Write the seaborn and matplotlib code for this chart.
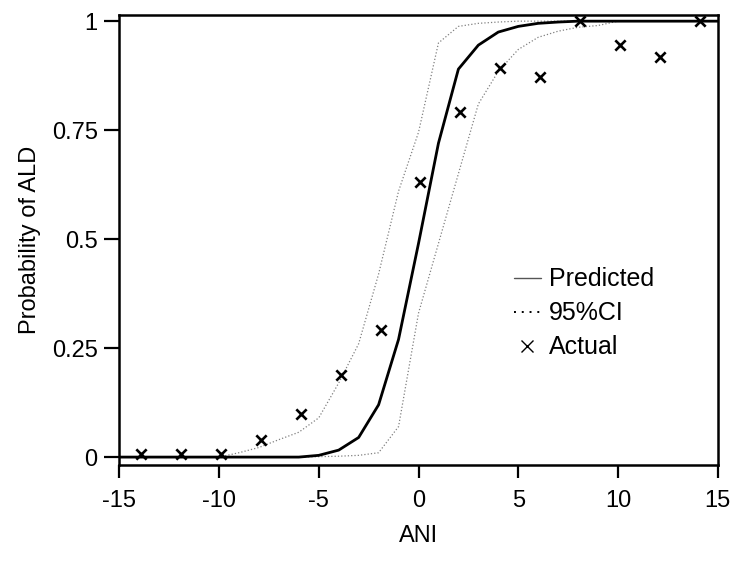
import numpy as np
import pandas as pd
import matplotlib
matplotlib.use("Agg")
import matplotlib.pyplot as plt
from matplotlib.lines import Line2D
import seaborn as sns

# ANI grid for the fitted curves
ani_grid = [-15, -14, -13, -12, -11, -10, -9, -8, -7, -6, -5, -4, -3, -2, -1, 0,
            1, 2, 3, 4, 5, 6, 7, 8, 9, 10, 11, 12, 13, 14, 15]

# predicted probability of ALD
predicted = [0, 0, 0, 0, 0, 0, 0, 0, 0, 0, 0.004, 0.016, 0.045, 0.12, 0.27, 0.49,
             0.72, 0.89, 0.945, 0.975, 0.988, 0.995, 0.998, 1, 1, 1, 1, 1, 1, 1, 1]

# 95% CI bounds
ci_upper = [0, 0, 0, 0, 0, 0, 0.01, 0.022, 0.04, 0.057, 0.09, 0.17, 0.26, 0.42, 0.61, 0.745,
            0.95, 0.988, 0.995, 0.998, 1, 1, 1, 1, 1, 1, 1, 1, 1, 1, 1]
ci_lower = [0, 0, 0, 0, 0, 0, 0, 0, 0, 0, 0.001, 0.002, 0.004, 0.01, 0.07, 0.33,
            0.49, 0.65, 0.81, 0.885, 0.935, 0.963, 0.977, 0.986, 0.99, 1, 1, 1, 1, 1, 1]

# observed proportions
actual_x = [-13.9, -11.9, -9.9, -7.9, -5.9, -3.9, -1.9, 0.1, 2.1, 4.1, 6.1, 8.1, 10.1, 12.1, 14.1]
actual_y = [0.008, 0.008, 0.008, 0.039, 0.099, 0.188, 0.291, 0.631, 0.791, 0.892,
            0.871, 1.0, 0.945, 0.917, 1.0]

curves = pd.DataFrame({"ANI": ani_grid, "pred": predicted, "lo": ci_lower, "hi": ci_upper})
obs = pd.DataFrame({"ANI": actual_x, "prob": actual_y})

sns.set_style("ticks")
plt.rcParams['font.family'] = ['Liberation Sans', 'DejaVu Sans']
plt.rcParams['axes.unicode_minus'] = False
plt.rcParams['text.color'] = 'black'
plt.rcParams['axes.labelcolor'] = 'black'

fig = plt.figure(figsize=(7.5, 5.61), dpi=100)
ax = fig.add_axes([0.159, 0.171, 0.798, 0.802])

sns.lineplot(data=curves, x="ANI", y="hi", ax=ax, color="#808080", lw=0.9, ls=":")
sns.lineplot(data=curves, x="ANI", y="lo", ax=ax, color="#808080", lw=0.9, ls=":")
sns.lineplot(data=curves, x="ANI", y="pred", ax=ax, color="black", lw=2.0)
sns.scatterplot(data=obs, x="ANI", y="prob", ax=ax, marker="x", color="black",
                s=55, linewidth=1.9, zorder=5)

ax.set_xlim(-15, 15)
ax.set_ylim(-0.0183, 1.0138)
ax.set_xticks([-15, -10, -5, 0, 5, 10, 15])
ax.set_yticks([0, 0.25, 0.5, 0.75, 1])
ax.set_yticklabels(["0", "0.25", "0.5", "0.75", "1"])

for sp in ax.spines.values():
    sp.set_color("black")
    sp.set_linewidth(1.8)
ax.tick_params(axis="both", direction="out", width=1.6, colors="black", labelsize=17)
ax.tick_params(axis="x", length=9.5, pad=8.5)
ax.tick_params(axis="y", length=10.5, pad=5)

ax.set_xlabel("ANI", fontsize=17, labelpad=9.5)
ax.set_ylabel("Probability of ALD", fontsize=17, labelpad=8)

handles = [Line2D([], [], color="#555555", lw=1.0),
           Line2D([], [], color="black", lw=1.4, ls=(0, (1, 3))),
           Line2D([], [], color="black", marker="x", ls="", ms=9, mew=1.0)]
ax.legend(handles, ["Predicted", "95%CI", "Actual"], loc="upper left",
          bbox_to_anchor=(0.638, 0.467), frameon=False, fontsize=18,
          handlelength=1.1, handletextpad=0.3, labelspacing=0.4, borderpad=0)

fig.savefig("out.png", dpi=100)
